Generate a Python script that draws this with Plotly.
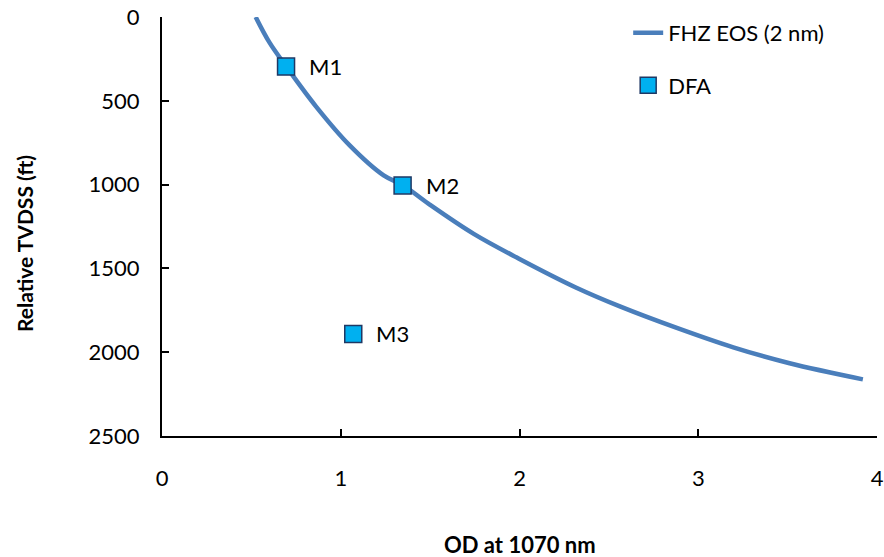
import plotly.graph_objects as go

# FHZ EOS curve
eos_od = [0.524, 0.60, 0.694, 0.861, 1.050, 1.24, 1.347, 1.492, 1.744, 1.997, 2.312, 2.565, 2.880, 3.196, 3.511, 3.921]
eos_depth = [0, 150, 294, 533, 766, 945, 1003, 1115, 1294, 1442, 1612, 1728, 1855, 1971, 2066, 2162]

# DFA measurements
dfa_labels = ["M1", "M2", "M3"]
dfa_od = [0.694, 1.346, 1.07]
dfa_depth = [296, 1005, 1891]

x_ticks = [0, 1, 2, 3, 4]
y_ticks = [0, 500, 1000, 1500, 2000, 2500]

FONT = "Lato"

fig = go.Figure()
fig.add_trace(go.Scatter(
    x=eos_od, y=eos_depth, mode="lines", name="FHZ EOS (2 nm)",
    line=dict(color="#4A7EBB", width=4.5, shape="spline"),
    legendgroup="a",
))
fig.add_trace(go.Scatter(
    x=dfa_od, y=dfa_depth, mode="markers", name="DFA",
    marker=dict(symbol="square", size=17, color="#00B0F0",
                line=dict(color="#1F3864", width=1.5)),
    legendgroup="b",
))

for lab, xv, yv in zip(dfa_labels, dfa_od, dfa_depth):
    fig.add_annotation(x=xv, y=yv, text=lab, showarrow=False, xanchor="left",
                       xshift=21, font=dict(family=FONT, size=22, color="#000000"))

fig.add_annotation(x=0.5, y=-0.26, xref="paper", yref="paper", text="<b>OD at 1070 nm</b>",
                   yanchor="middle",
                   showarrow=False, font=dict(family=FONT, size=22, color="#000000"))
fig.add_annotation(x=-0.192, y=0.46, xref="paper", yref="paper", text="<b>Relative TVDSS (ft)</b>",
                   xanchor="center",
                   textangle=-90, showarrow=False, font=dict(family=FONT, size=21, color="#000000"))

axis_common = dict(showgrid=False, zeroline=False, showline=True, linecolor="#000000",
                   linewidth=2, ticks="inside", ticklen=7, tickwidth=2, tickcolor="#000000",
                   automargin=False,
                   tickfont=dict(family=FONT, size=22, color="#000000"))

fig.update_xaxes(range=[0, 4], tickvals=x_ticks, ticklabelstandoff=22, **axis_common)
fig.update_yaxes(range=[2500, 0], tickvals=y_ticks, ticklabelstandoff=16, **axis_common)

fig.update_layout(
    width=884, height=557,
    margin=dict(l=162, r=7, t=17, b=121, autoexpand=False),
    paper_bgcolor="white", plot_bgcolor="white",
    font=dict(family=FONT, size=22, color="#000000"),
    legend=dict(x=0.652, y=1.012, xanchor="left", yanchor="top",
                bgcolor="rgba(0,0,0,0)", tracegroupgap=21, traceorder="grouped",
                font=dict(family=FONT, size=22, color="#000000")),
    showlegend=True,
)

fig.write_html("out.html")
